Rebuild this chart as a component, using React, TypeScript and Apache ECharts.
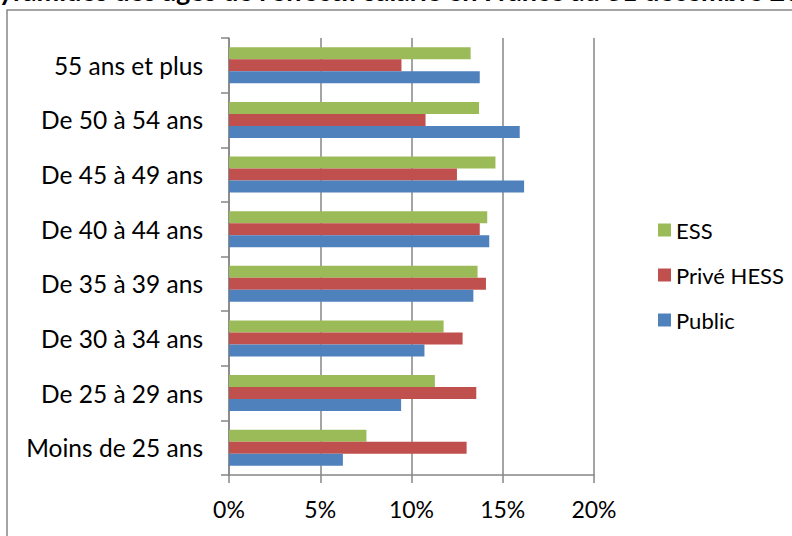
import React, { useEffect, useRef } from "react";
import * as echarts from "echarts";

const categories = [
  "Moins de 25 ans",
  "De 25 à 29 ans",
  "De 30 à 34 ans",
  "De 35 à 39 ans",
  "De 40 à 44 ans",
  "De 45 à 49 ans",
  "De 50 à 54 ans",
  "55 ans et plus",
];
const publicValues = [6.24, 9.43, 10.71, 13.39, 14.26, 16.17, 15.93, 13.74];
const priveValues = [13.02, 13.55, 12.8, 14.08, 13.74, 12.49, 10.77, 9.45];
const essValues = [7.53, 11.28, 11.76, 13.62, 14.15, 14.6, 13.7, 13.24];
const xTicks = [0, 5, 10, 15, 20];
const legendOrder = ["ESS", "Privé HESS", "Public"];
const titleText = "Pyramides des âges de l'effectif salarié en France au 31 décembre 2008";

const GRAY = "#868686";
const FONT = "Lato";

export default function App() {
  const ref = useRef<HTMLDivElement>(null);
  useEffect(() => {
    document.body.style.margin = "0";
    const chart = echarts.init(ref.current!, null, { renderer: "svg" });
    chart.setOption({
      animation: false,
      backgroundColor: "#ffffff",
      graphic: [
        {
          type: "rect",
          shape: { x: 7, y: 10, width: 820, height: 560 },
          style: { fill: "none", stroke: GRAY, lineWidth: 1.5 },
          silent: true,
        },
        {
          type: "text",
          x: -18,
          y: -10,
          style: {
            text: titleText,
            font: `bold 27px ${FONT}`,
            fill: "#000",
            textAlign: "left",
            textVerticalAlign: "middle",
          },
          silent: true,
        },
      ],
      grid: { left: 229, right: 198, top: 38, bottom: 61, containLabel: false },
      legend: {
        data: legendOrder,
        orient: "vertical",
        left: 658,
        top: 219,
        padding: 0,
        itemWidth: 13,
        itemHeight: 13,
        itemGap: 23,
        icon: "rect",
        textStyle: { fontFamily: FONT, fontSize: 22, color: "#000" },
      },
      xAxis: {
        type: "value",
        min: xTicks[0],
        max: xTicks[xTicks.length - 1],
        interval: 5,
        axisLine: { show: true, lineStyle: { color: GRAY, width: 1.5 } },
        axisTick: { show: true, length: 8, lineStyle: { color: GRAY, width: 1.5 } },
        splitLine: { show: true, lineStyle: { color: GRAY, width: 1.5 } },
        axisLabel: {
          margin: 22,
          formatter: (v: number) => `${v}%`,
          fontFamily: FONT,
          fontSize: 23,
          color: "#000",
        },
      },
      yAxis: {
        type: "category",
        data: categories,
        axisLine: { show: true, lineStyle: { color: GRAY, width: 1.5 } },
        axisTick: { show: true, length: 8, alignWithLabel: false, lineStyle: { color: GRAY, width: 1.5 } },
        axisLabel: { margin: 26, fontFamily: FONT, fontSize: 24.5, color: "#000" },
        splitLine: { show: false },
      },
      series: [
        {
          name: "ESS",
          type: "bar",
          data: essValues,
          itemStyle: { color: "#9BBB59" },
          barGap: "0%",
          barCategoryGap: "34%",
        },
        {
          name: "Privé HESS",
          type: "bar",
          data: priveValues,
          itemStyle: { color: "#C0504D" },
          barGap: "0%",
          barCategoryGap: "34%",
        },
        {
          name: "Public",
          type: "bar",
          data: publicValues,
          itemStyle: { color: "#4F81BD" },
          barGap: "0%",
          barCategoryGap: "34%",
        },
      ],
    });
    return () => chart.dispose();
  }, []);
  return (
    <div
      ref={ref}
      style={{ position: "absolute", left: 0, top: 0, width: 792, height: 536 }}
    />
  );
}
